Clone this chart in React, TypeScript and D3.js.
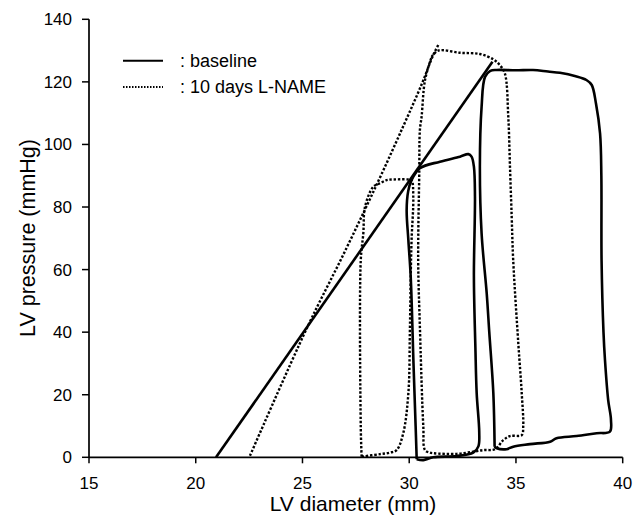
import React from "react";
import * as d3 from "d3";

// ---- data (LV diameter mm, LV pressure mmHg) ----
const xTicks = [15, 20, 25, 30, 35, 40];
const yTicks = [0, 20, 40, 60, 80, 100, 120, 140];

const baselineESPVR: [number, number][] = [
  [20.95, 0],
  [33.9, 126.4],
];

const baselineSmallLoop: [number, number][] = [
  [30.35, -0.6], [30.3, 10], [30.2, 30], [30.07, 57.7], [29.96, 69.4], [29.88, 79],
  [29.95, 85], [30.11, 88.6], [30.5, 92.4], [31.44, 94.5], [32.38, 96.1], [32.77, 96.9],
  [32.92, 96.1], [33.03, 92.9], [33.08, 83.3], [33.03, 57.7], [33.1, 35], [33.16, 20.5],
  [33.28, 8], [33.24, 3.5], [33.0, 1.5], [32.22, 0.4], [31.13, 0], [30.66, -0.9], [30.35, -0.6],
];

const baselineLargeLoop: [number, number][] = [
  [34.0, 3.4], [33.94, 20.5], [33.75, 40], [33.63, 52.4], [33.39, 71.6], [33.31, 92.9],
  [33.39, 112], [33.55, 121.6], [33.8, 123.5], [34.1, 123.8], [35.0, 123.7], [35.8, 123.8],
  [36.5, 123.3], [37.06, 122.9], [37.8, 121.8], [38.3, 120.6], [38.55, 119], [38.75, 113],
  [38.94, 103.5], [39.0, 90], [39.01, 63], [39.1, 40], [39.17, 31.1], [39.32, 18.3],
  [39.45, 12], [39.4, 8.2], [38.78, 7.7], [37.84, 6.8], [36.9, 6.1], [36.6, 5.0],
  [35.66, 4.2], [34.87, 3.4], [34.56, 2.6], [34.1, 2.9], [34.0, 3.4],
];

const lnameESPVR: [number, number][] = [
  [22.54, 0.5], [25.2, 41.2], [27.0, 66], [28.5, 87.5], [29.7, 105.5], [30.6, 119.5],
  [31.1, 128.2], [31.36, 131.8],
];

const lnameSmallLoop: [number, number][] = [
  [27.77, 0.2], [27.73, 9.8], [27.73, 63], [27.85, 71.6], [27.93, 80.1], [28.32, 86.5],
  [28.63, 87.6], [28.94, 88.6], [29.25, 88.8], [29.96, 88.8], [30.11, 88.6], [30.19, 83.3],
  [30.11, 69.4], [30.07, 57.7], [30.03, 40], [29.96, 20.5], [29.72, 7.7], [29.41, 2.3],
  [29.1, 1.5], [28.63, 1.0], [27.77, 0.2],
];

const lnameLargeLoop: [number, number][] = [
  [31.05, 128], [31.36, 130], [32.38, 129.3], [33.31, 128.9], [33.94, 127.2], [34.25, 125.3],
  [34.48, 122.7], [34.64, 108.9], [34.72, 92.9], [34.8, 76.9], [34.87, 63.1], [35.11, 36.4],
  [35.27, 20.5], [35.34, 9.8], [35.27, 7.1], [34.72, 6.8], [34.41, 5.5], [34.02, 2.6],
  [33.47, 2.3], [33.0, 1.8], [32.22, 1.1], [31.13, 1.3], [30.97, 1.5], [30.74, 2.3],
  [30.66, 9.8], [30.5, 41.7], [30.42, 63], [30.47, 90.7], [30.5, 104.6], [30.58, 108.9],
  [30.74, 120.6], [31.05, 128],
];

const legendLabels = [": baseline", ": 10 days L-NAME"];

const FONT = "'Liberation Sans', Arial, Helvetica, sans-serif";

export default function App() {
  const W = 635;
  const H = 524;
  const x = d3.scaleLinear().domain([15, 40]).range([89, 622.7]);
  const y = d3.scaleLinear().domain([0, 140]).range([457.3, 19.3]);

  const line = d3
    .line<[number, number]>()
    .x((d) => x(d[0]))
    .y((d) => y(d[1]))
    .curve(d3.curveCatmullRom.alpha(0.5));

  const straight = d3
    .line<[number, number]>()
    .x((d) => x(d[0]))
    .y((d) => y(d[1]));

  const solid = { fill: "none", stroke: "#000", strokeWidth: 2.6, strokeLinejoin: "round" as const };
  const dotted = { fill: "none", stroke: "#000", strokeWidth: 2.4, strokeDasharray: "2.4,1.8" };

  return (
    <svg
      width={W}
      height={H}
      style={{ position: "absolute", left: 0, top: 0, background: "#fff" }}
      fontFamily={FONT}
    >
      <rect width={W} height={H} fill="#fff" />
      {/* axes */}
      <line x1={x(15)} x2={x(40)} y1={y(0)} y2={y(0)} stroke="#000" strokeWidth={1.7} />
      <line x1={x(15)} x2={x(15)} y1={y(0)} y2={y(140)} stroke="#000" strokeWidth={1.7} />
      {yTicks.map((t) => (
        <g key={"y" + t}>
          <line x1={x(15) - 7} x2={x(15)} y1={y(t)} y2={y(t)} stroke="#000" strokeWidth={1.5} />
          <text x={72} y={y(t) + 6} fontSize={17} textAnchor="end" fill="#000">
            {t}
          </text>
        </g>
      ))}
      {xTicks.map((t) => (
        <g key={"x" + t}>
          <line x1={x(t)} x2={x(t)} y1={y(0)} y2={y(0) + 6} stroke="#000" strokeWidth={1.5} />
          <text x={x(t)} y={488.5} fontSize={17} textAnchor="middle" fill="#000">
            {t}
          </text>
        </g>
      ))}
      <text x={353} y={511} fontSize={21} textAnchor="middle" fill="#000">
        LV diameter (mm)
      </text>
      <text
        transform={`translate(35,238) rotate(-90)`}
        fontSize={21.5}
        textAnchor="middle"
        fill="#000"
      >
        LV pressure (mmHg)
      </text>

      {/* legend */}
      <line x1={123} x2={163} y1={60.7} y2={60.7} stroke="#000" strokeWidth={2} />
      <text x={180} y={67} fontSize={18} fill="#000">
        {legendLabels[0]}
      </text>
      <line x1={123} x2={163} y1={87} y2={87} stroke="#000" strokeWidth={2} strokeDasharray="1.5,1.5" />
      <text x={180} y={93} fontSize={18} fill="#000">
        {legendLabels[1]}
      </text>

      {/* baseline */}
      <path d={straight(baselineESPVR) || ""} {...solid} />
      <path d={line(baselineSmallLoop) || ""} {...solid} />
      <path d={line(baselineLargeLoop) || ""} {...solid} />

      {/* L-NAME */}
      <path d={line(lnameESPVR) || ""} {...dotted} />
      <path d={line(lnameSmallLoop) || ""} {...dotted} />
      <path d={line(lnameLargeLoop) || ""} {...dotted} />
    </svg>
  );
}
